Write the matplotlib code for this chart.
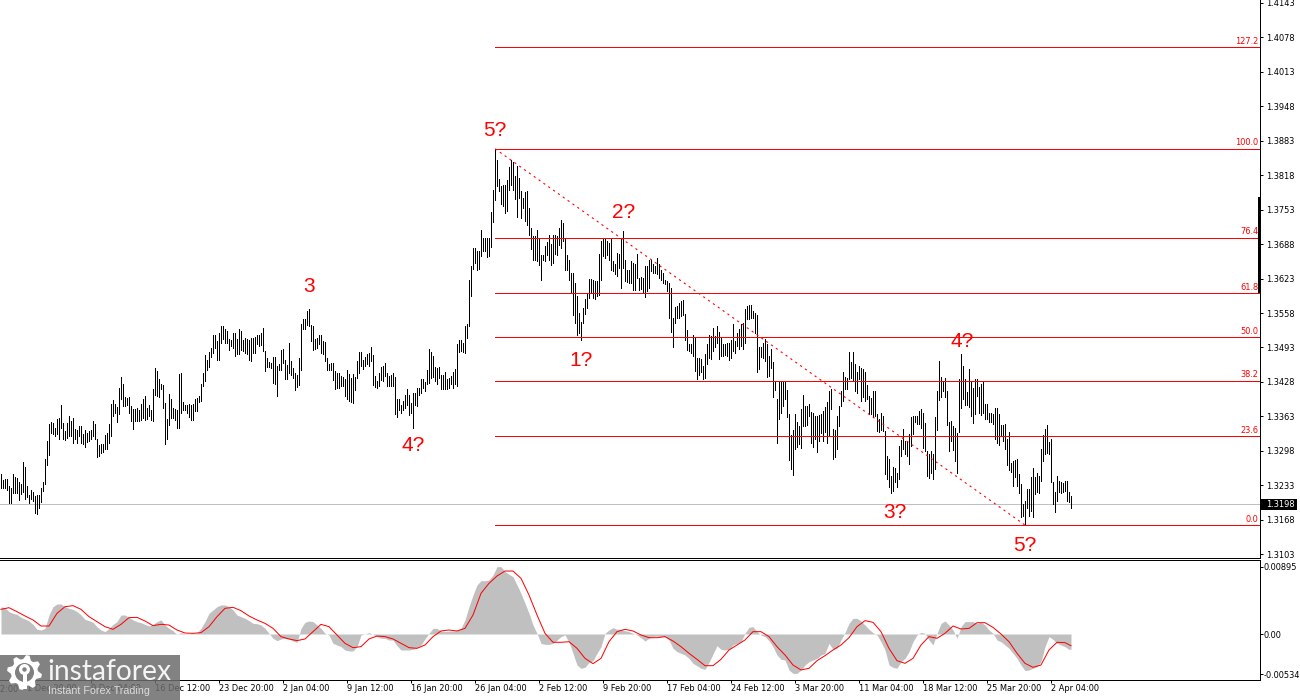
import numpy as np
import matplotlib
matplotlib.use("Agg")
import matplotlib.pyplot as plt
from matplotlib.patches import Rectangle, Circle, Polygon

# ---------- data (points = 1/10000 of price) ----------
bar_high_points = [
13255,13243,13244,13244,13232,13228,13254,13249,13247,13239,
13235,13277,13267,13232,13214,13224,13221,13213,13214,13214,
13227,13239,13283,13316,13348,13353,13351,13342,13359,13360,
13385,13351,13335,13351,13364,13354,13360,13340,13338,13345,
13345,13329,13338,13331,13335,13338,13355,13348,13320,13309,
13310,13310,13327,13331,13348,13387,13393,13387,13381,13416,
13438,13425,13400,13398,13399,13382,13377,13377,13378,13375,
13387,13395,13401,13379,13384,13375,13415,13455,13448,13433,
13425,13422,13389,13359,13406,13395,13379,13377,13375,13443,
13445,13390,13385,13385,13387,13385,13387,13395,13398,13401,
13425,13444,13478,13470,13484,13492,13517,13517,13505,13521,
13534,13534,13528,13524,13509,13507,13521,13521,13509,13527,
13524,13507,13511,13509,13507,13511,13511,13513,13516,13516,
13521,13530,13487,13473,13465,13464,13475,13475,13458,13461,
13488,13490,13470,13460,13502,13467,13455,13444,13442,13473,
13538,13547,13546,13561,13566,13536,13534,13509,13511,13517,
13517,13505,13503,13473,13461,13464,13463,13448,13445,13445,
13439,13438,13434,13451,13443,13436,13443,13438,13468,13484,
13484,13469,13475,13480,13483,13494,13478,13440,13429,13444,
13456,13458,13464,13445,13439,13442,13445,13438,13395,13395,
13385,13392,13404,13414,13404,13389,13407,13407,13417,13417,
13434,13434,13428,13450,13490,13484,13477,13457,13455,13457,
13442,13442,13446,13434,13436,13439,13446,13453,13499,13508,
13508,13502,13533,13537,13621,13647,13680,13680,13675,13675,
13714,13699,13700,13700,13700,13748,13791,13866,13846,13810,
13798,13800,13800,13809,13834,13846,13843,13817,13835,13813,
13788,13775,13786,13788,13756,13719,13704,13704,13714,13697,
13668,13668,13684,13692,13706,13689,13706,13706,13703,13719,
13733,13728,13697,13667,13659,13633,13633,13615,13590,13559,
13541,13568,13584,13596,13623,13623,13620,13618,13618,13670,
13694,13700,13697,13694,13690,13697,13657,13650,13672,13670,
13700,13712,13658,13640,13640,13656,13653,13650,13670,13625,
13626,13625,13647,13647,13659,13659,13650,13647,13662,13650,
13640,13633,13621,13618,13615,13606,13549,13570,13571,13577,
13581,13582,13557,13526,13499,13499,13516,13511,13474,13474,
13471,13458,13480,13499,13516,13515,13530,13515,13533,13522,
13513,13499,13499,13502,13502,13507,13537,13505,13521,13527,
13537,13540,13566,13571,13574,13574,13562,13559,13554,13493,
13493,13502,13509,13499,13477,13490,13466,13430,13396,13427,
13427,13427,13427,13413,13367,13328,13338,13367,13352,13344,
13377,13403,13382,13383,13386,13372,13370,13364,13363,13366,
13367,13374,13380,13391,13411,13414,13339,13338,13364,13383,
13411,13447,13438,13436,13485,13465,13484,13462,13447,13458,
13455,13452,13446,13422,13402,13397,13411,13411,13367,13358,
13369,13364,13336,13289,13283,13251,13267,13266,13257,13308,
13319,13339,13317,13317,13330,13361,13364,13364,13364,13374,
13377,13370,13350,13298,13292,13298,13292,13361,13411,13468,
13438,13430,13436,13411,13353,13355,13345,13342,13332,13434,
13480,13458,13433,13409,13452,13427,13416,13434,13434,13419,
13424,13428,13386,13386,13369,13369,13367,13378,13378,13367,
13347,13347,13348,13320,13333,13276,13278,13281,13283,13254,
13235,13198,13204,13226,13226,13249,13266,13248,13256,13251,
13301,13327,13339,13347,13314,13320,13239,13220,13251,13242,
13239,13237,13242,13242,13221,13213]

bar_low_points = [
13228,13227,13227,13225,13199,13200,13219,13219,13219,13205,
13216,13220,13207,13210,13200,13207,13203,13180,13178,13191,
13202,13222,13235,13272,13291,13331,13329,13326,13329,13320,
13342,13320,13318,13323,13326,13326,13313,13320,13313,13326,
13313,13311,13306,13315,13317,13320,13326,13320,13286,13289,
13293,13296,13301,13301,13313,13326,13364,13370,13352,13367,
13395,13382,13382,13385,13370,13355,13340,13354,13354,13355,
13357,13360,13357,13358,13364,13356,13354,13404,13402,13400,
13414,13379,13310,13320,13347,13360,13360,13357,13341,13342,
13370,13376,13375,13370,13362,13356,13356,13373,13373,13390,
13392,13421,13429,13451,13456,13475,13482,13492,13470,13469,
13502,13509,13502,13502,13489,13495,13492,13477,13480,13480,
13488,13486,13482,13480,13470,13467,13483,13482,13499,13495,
13497,13486,13448,13456,13456,13455,13426,13425,13401,13450,
13450,13463,13434,13434,13445,13442,13436,13413,13419,13423,
13450,13527,13527,13536,13533,13505,13489,13490,13492,13499,
13483,13480,13467,13450,13451,13451,13431,13414,13417,13417,
13421,13421,13402,13396,13392,13390,13389,13413,13436,13445,
13459,13453,13459,13461,13459,13467,13423,13419,13417,13420,
13431,13429,13439,13421,13421,13421,13421,13368,13362,13376,
13369,13375,13379,13385,13365,13370,13342,13384,13382,13404,
13407,13417,13411,13425,13426,13436,13438,13430,13424,13436,
13414,13415,13414,13414,13417,13424,13417,13424,13420,13484,
13486,13484,13482,13511,13533,13590,13641,13653,13640,13641,
13665,13675,13675,13664,13665,13683,13729,13772,13797,13788,
13763,13760,13747,13750,13791,13800,13791,13773,13739,13775,
13738,13756,13731,13725,13706,13678,13659,13659,13656,13648,
13621,13658,13656,13667,13659,13648,13653,13670,13668,13687,
13681,13694,13640,13640,13621,13596,13555,13540,13516,13521,
13507,13539,13557,13568,13587,13596,13587,13584,13590,13592,
13621,13665,13662,13668,13659,13640,13637,13631,13628,13643,
13606,13643,13618,13616,13614,13615,13601,13601,13625,13601,
13603,13596,13588,13599,13606,13637,13634,13634,13631,13625,
13621,13614,13612,13599,13549,13522,13493,13539,13549,13549,
13552,13555,13508,13488,13486,13482,13477,13449,13433,13442,
13446,13433,13436,13461,13474,13471,13486,13493,13502,13471,
13477,13477,13478,13477,13469,13474,13486,13483,13496,13490,
13496,13490,13502,13546,13546,13548,13549,13521,13446,13452,
13476,13474,13468,13438,13440,13455,13400,13413,13313,13358,
13370,13383,13396,13361,13281,13264,13253,13301,13305,13311,
13303,13345,13345,13347,13364,13313,13305,13320,13296,13317,
13332,13317,13333,13312,13327,13377,13283,13286,13301,13345,
13383,13392,13414,13414,13433,13435,13430,13411,13408,13433,
13392,13399,13392,13396,13367,13367,13361,13364,13336,13334,
13338,13336,13254,13245,13229,13219,13223,13239,13229,13245,
13289,13301,13292,13289,13273,13308,13330,13352,13348,13348,
13342,13303,13298,13251,13247,13257,13245,13264,13338,13394,
13399,13411,13399,13347,13298,13317,13300,13279,13257,13333,
13378,13396,13384,13384,13380,13364,13350,13367,13401,13370,
13365,13369,13358,13358,13353,13352,13348,13320,13313,13309,
13327,13317,13301,13272,13261,13259,13232,13248,13232,13219,
13173,13175,13160,13191,13176,13185,13173,13217,13220,13219,
13242,13278,13292,13293,13292,13239,13198,13182,13204,13220,
13219,13221,13223,13204,13202,13190]

# MACD histogram, one value per two bars, in 1e-5 price units
macd_hist = [
362,349,296,274,261,221,199,172,128,62,
53,75,252,362,398,398,362,340,327,296,
252,194,177,155,97,53,31,75,128,164,
252,252,221,186,164,150,128,106,128,164,
186,119,75,44,-9,18,4,4,9,13,
75,164,274,318,362,385,385,362,318,252,
230,208,177,141,137,119,75,9,-57,-88,
-66,-57,-66,-93,-110,75,155,172,164,119,
75,9,-13,-124,-146,-168,-212,-225,-225,-168,
-13,0,18,-4,-35,-57,-57,-80,-80,-155,
-212,-212,-212,-203,-181,-146,-66,9,75,75,
40,31,40,40,44,75,186,362,517,650,
707,707,716,782,893,893,827,791,760,650,
539,407,274,119,9,-124,-137,-137,-124,-80,
-35,-13,-110,-256,-411,-455,-442,-376,-354,-256,
-168,9,53,84,62,62,44,31,9,-13,
-49,-93,-57,-35,-27,-35,-35,-80,-190,-234,
-256,-278,-323,-389,-420,-455,-469,-376,-265,-155,
-203,-212,-203,-146,-124,-102,9,88,97,31,
-13,-35,-88,-168,-278,-336,-345,-477,-522,-522,
-477,-411,-367,-345,-323,-278,-256,-124,-203,-190,
-80,18,141,208,208,172,119,62,18,-13,
-102,-212,-411,-442,-455,-367,-323,-234,-102,-13,
22,9,-80,-146,9,141,172,119,53,-57,
97,164,164,164,141,155,119,53,9,-80,
-102,-146,-190,-256,-323,-411,-486,-477,-455,-433,
-367,-168,-35,-71,-124,-146,-168,-203]

# MACD signal line, one value per four bars plus the last bar
macd_signal = [
327,349,296,239,186,106,106,274,362,376,
327,230,164,97,62,128,217,221,172,111,
128,119,53,13,9,18,97,230,340,354,
309,239,186,141,75,-35,-66,-88,-66,31,
128,97,-13,-124,-181,
-168,-66,-27,-35,-66,-124,-181,-190,-146,-35,
40,53,40,75,252,539,672,769,835,835,
738,517,252,9,-110,-110,-102,-190,-323,-393,
-323,-102,31,62,40,-13,-49,-49,-35,-93,
-168,-256,-336,-420,-420,
-336,-212,-146,-80,31,31,-35,-168,-278,-411,
-477,-455,-354,-287,-212,-146,-49,97,177,155,
31,-190,-354,-389,-323,-146,-35,-57,9,106,
66,75,150,150,88,0,-102,-256,-389,-442,
-411,-212,-110,-115,-155]

price_ticks = [1.4143, 1.4078, 1.4013, 1.3948, 1.3883, 1.3818, 1.3753, 1.3688, 1.3623,
               1.3558, 1.3493, 1.3428, 1.3363, 1.3298, 1.3233, 1.3168, 1.3103]
current_price = 1.3198
macd_ticks = [0.00895, 0.0, -0.00534]
macd_tick_labels = ["0.00895", "0.00", "-0.00534"]

fib_names = ["127.2", "100.0", "76.4", "61.8", "50.0", "38.2", "23.6", "0.0"]
fib_prices = [1.4060, 1.3868, 1.3700, 1.3596, 1.3513, 1.3430, 1.3326, 1.3158]
fib_start_bar = 247
fib_end_bar = 512

wave_text = ["5?", "3", "4?", "2?", "1?", "3?", "4?", "5?"]
wave_bars = [247, 154, 206, 311.5, 290, 447, 480.5, 512]
wave_prices = [1.3902, 1.3608, 1.3308, 1.3747, 1.3468, 1.3181, 1.3504, 1.3119]

time_labels = ["1 Dec 20:00", "9 Dec 04:00", "16 Dec 12:00", "23 Dec 20:00", "2 Jan 04:00",
               "9 Jan 12:00", "16 Jan 20:00", "26 Jan 04:00", "2 Feb 12:00", "9 Feb 20:00",
               "17 Feb 04:00", "24 Feb 12:00", "3 Mar 20:00", "11 Mar 04:00", "18 Mar 12:00",
               "25 Mar 20:00", "2 Apr 04:00"]
time_bars = [13 + 32 * k for k in range(len(time_labels))]
clipped_label = "24 Nov 12:00"

assert len(bar_high_points) == len(bar_low_points) == 536
assert len(macd_hist) == 268 and len(macd_signal) == 135

# ---------- layout helpers ----------
W, H = 1300, 700
AXIS_X = 1259.5
px = 1.0 / 100 * 72            # one pixel in points
SMALL_FONT = dict(family="DejaVu Sans", stretch="condensed", fontsize=6.6)
RED = "#ff0000"

fig = plt.figure(figsize=(W / 100, H / 100), dpi=100, facecolor="white")
ax = fig.add_axes([0, 1 - 557.5 / H, AXIS_X / W, 557.5 / H])
ax2 = fig.add_axes([0, 1 - 679.5 / H, AXIS_X / W, (679.5 - 559.5) / H])

bar_to_xlim = (-0.5, (AXIS_X - 1) / 2)

# ---------- price panel ----------
bars = np.arange(len(bar_high_points))
highs = np.array(bar_high_points) / 1e4
lows = np.array(bar_low_points) / 1e4
ax.vlines(bars, lows, highs, color="black", linewidth=px, antialiased=False, zorder=3)
ax.axhline(current_price, color="#c0c0c0", linewidth=px, antialiased=False, zorder=1)
ax.hlines(fib_prices, fib_start_bar, bar_to_xlim[1], color=RED, linewidth=px,
          antialiased=False, zorder=4)
ax.plot([fib_start_bar, fib_end_bar], [fib_prices[1], fib_prices[-1]], color=RED,
        linewidth=1.1 * px, dashes=(2, 3.4), zorder=5)
for name, level in zip(fib_names, fib_prices):
    ax.annotate(name, (bar_to_xlim[1], level), xytext=(-1, 1), textcoords="offset points",
                ha="right", va="bottom", color=RED, zorder=6, **SMALL_FONT)
for t, b, p in zip(wave_text, wave_bars, wave_prices):
    ax.text(b, p, t, color=RED, fontsize=15, family="Liberation Sans", ha="center",
            va="center", zorder=6)

ax.set_xlim(*bar_to_xlim)
ax.set_ylim(1.4143 - (557.5 - 3) * 1.8868e-4, 1.4143 + 3 * 1.8868e-4)
ax.set_xticks([])
ax.yaxis.tick_right()
ax.set_yticks(price_ticks)
ax.set_yticklabels([f"{v:.4f}" for v in price_ticks], **SMALL_FONT)
ax.tick_params(axis="y", length=3 * px, width=px, pad=3.5 * px)
for s in ("left", "top"):
    ax.spines[s].set_visible(False)
for s in ("right", "bottom"):
    ax.spines[s].set_linewidth(px)

# ---------- MACD panel ----------
hist_bars = np.arange(len(macd_hist)) * 2
hist_values = np.array(macd_hist) / 1e5
ax2.fill_between(np.r_[hist_bars, 535], np.r_[hist_values, hist_values[-1]], 0, color="#c0c0c0",
                 linewidth=0, antialiased=False, zorder=2)
signal_bars = list(range(0, 536, 4)) + [535]
ax2.plot(signal_bars, np.array(macd_signal) / 1e5, color=RED, linewidth=px, zorder=3)
ax2.set_xlim(*bar_to_xlim)
ax2.set_ylim(-45.5 * 13.26e-5, 74.5 * 13.26e-5)
ax2.yaxis.tick_right()
ax2.set_yticks(macd_ticks)
ax2.set_yticklabels(macd_tick_labels, **SMALL_FONT)
ax2.tick_params(axis="y", length=3 * px, width=px, pad=1.0 * px)
ax2.set_xticks(time_bars)
ax2.set_xticklabels(time_labels, ha="left", **SMALL_FONT)
ax2.tick_params(axis="x", length=3 * px, width=px, pad=1.5 * px)
ax2.spines["left"].set_visible(False)
for s in ("right", "bottom", "top"):
    ax2.spines[s].set_linewidth(px)
ax2.annotate(clipped_label, (time_bars[0] - 32, 0), xycoords=("data", "axes fraction"),
             xytext=(0, -(3 + 1.5) * px - 0.5), textcoords="offset points", ha="left", va="top",
             annotation_clip=False, clip_on=False, **SMALL_FONT)

# ---------- pixel overlay: price tag, scale mark, watermark ----------
ov = fig.add_axes([0, 0, 1, 1], zorder=10, facecolor="none")
ov.set_xlim(0, W)
ov.set_ylim(H, 0)
ov.axis("off")
ov.add_patch(Rectangle((1258, 197), 3, 96, color="black", linewidth=0))
ov.add_patch(Rectangle((1261, 499), 36, 11, color="black", linewidth=0))
ov.text(1266, 504.5, f"{current_price:.4f}", color="white", va="center", ha="left", **SMALL_FONT)
ov.add_patch(Rectangle((0, 655), 180, 45, color="#6c6c6c", alpha=0.85, linewidth=0))
# gear
gx, gy, n = 24.5, 672.5, 8
ang = np.linspace(0, 2 * np.pi, n * 4, endpoint=False) + np.pi / 8 - np.pi / 16 * 1.5
rad = np.tile([17.5, 17.5, 13.5, 13.5], n)
ov.add_patch(Polygon(np.c_[gx + rad * np.cos(ang), gy + rad * np.sin(ang)], color="white", linewidth=0))
ov.add_patch(Circle((gx, gy), 9.5, color="#808080", linewidth=0))
ov.add_patch(Circle((gx, gy - 3), 5.5, color="white", linewidth=0))
ov.add_patch(Circle((gx, gy - 3), 2.2, color="#808080", linewidth=0))
ov.add_patch(Rectangle((gx - 2, gy + 1), 4, 15, color="white", linewidth=0))
ov.text(47, 672, "instaforex", color="#f4f4f4", fontsize=20.3, family="Lato", va="center", ha="left")
ov.text(48, 691, "Instant Forex Trading", color="#dcdcdc", fontsize=7.7, family="Liberation Sans",
        va="center", ha="left")

fig.savefig("out.png", dpi=100, facecolor="white")
